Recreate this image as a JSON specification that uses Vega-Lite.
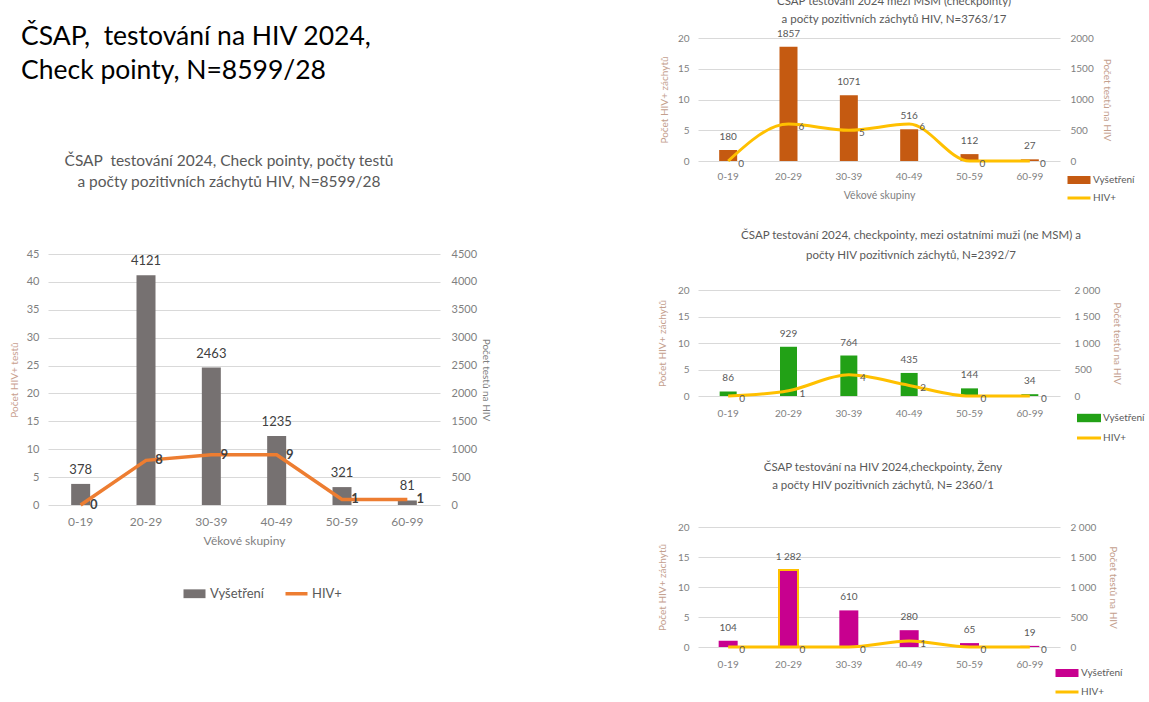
{
"$schema": "https://vega.github.io/schema/vega-lite/v6.json",
"background": "white",
"padding": {"left": 9, "top": -4, "right": 0, "bottom": 0},
"config": {
  "font": "Lato",
  "view": {"stroke": null},
  "locale": {"number": {"decimal": ",", "thousands": "\u00a0", "grouping": [3], "currency": ["", " Kč"]}},
  "axis": {"domain": false, "ticks": false, "labelColor": "#7f7f7f", "titleColor": "#7f7f7f", "titleFontWeight": "normal", "gridColor": "#d9d9d9", "gridWidth": 1, "labelFont": "Lato", "titleFont": "Lato"},
  "title": {"color": "#595959", "fontWeight": "normal", "font": "Lato"},
  "legend": {"labelFont": "Lato", "padding": 0}
},
"datasets": {
  "main": [
    {"age": "0-19", "tests": 378, "hiv": 0},
    {"age": "20-29", "tests": 4121, "hiv": 8},
    {"age": "30-39", "tests": 2463, "hiv": 9},
    {"age": "40-49", "tests": 1235, "hiv": 9},
    {"age": "50-59", "tests": 321, "hiv": 1},
    {"age": "60-99", "tests": 81, "hiv": 1}
  ],
  "msm": [
    {"age": "0-19", "tests": 180, "hiv": 0},
    {"age": "20-29", "tests": 1857, "hiv": 6},
    {"age": "30-39", "tests": 1071, "hiv": 5},
    {"age": "40-49", "tests": 516, "hiv": 6},
    {"age": "50-59", "tests": 112, "hiv": 0},
    {"age": "60-99", "tests": 27, "hiv": 0}
  ],
  "men": [
    {"age": "0-19", "tests": 86, "hiv": 0},
    {"age": "20-29", "tests": 929, "hiv": 1},
    {"age": "30-39", "tests": 764, "hiv": 4},
    {"age": "40-49", "tests": 435, "hiv": 2},
    {"age": "50-59", "tests": 144, "hiv": 0},
    {"age": "60-99", "tests": 34, "hiv": 0}
  ],
  "women": [
    {"age": "0-19", "tests": 104, "hiv": 0},
    {"age": "20-29", "tests": 1282, "hiv": 0},
    {"age": "30-39", "tests": 610, "hiv": 0},
    {"age": "40-49", "tests": 280, "hiv": 1},
    {"age": "50-59", "tests": 65, "hiv": 0},
    {"age": "60-99", "tests": 19, "hiv": 0}
  ]
},
"spacing": 166,
"resolve": {"scale": {"color": "independent", "x": "independent", "y": "independent"}, "legend": {"color": "independent"}},
"hconcat": [
  {
    "spacing": 68,
    "resolve": {"scale": {"color": "independent", "x": "independent", "y": "independent"}, "legend": {"color": "independent"}},
    "vconcat": [
      {
        "width": 392, "height": 1,
        "data": {"values": []},
        "mark": {"type": "point", "opacity": 0},
        "title": {"text": ["ČSAP,\u00a0 testování na HIV 2024,", "Check pointy, N=8599/28"], "orient": "bottom", "anchor": "start", "frame": "group", "fontSize": 26.5, "lineHeight": 34, "color": "#000000", "fontWeight": "normal", "dx": -27, "dy": -15, "offset": 0}
      },
      {
        "width": 392, "height": 251,
        "data": {"name": "main"},
        "title": {"text": ["ČSAP\u00a0 testování 2024, Check pointy, počty testů", "a počty pozitivních záchytů HIV, N=8599/28"], "fontSize": 15.5, "lineHeight": 21, "offset": 58, "dx": -15, "color": "#595959"},
        "encoding": {"x": {"field": "age", "type": "ordinal", "scale": {"paddingInner": 0, "paddingOuter": 0}, "axis": {"title": "Věkové skupiny", "labelAngle": 0, "labelFontSize": 12, "labelPadding": 11, "titleFontSize": 12, "titlePadding": 8, "grid": false}}},
        "layer": [
          {
            "encoding": {"y": {"field": "tests", "type": "quantitative", "scale": {"domain": [0, 4500]}, "axis": {"orient": "right", "title": "Počet testů na HIV", "values": [0, 500, 1000, 1500, 2000, 2500, 3000, 3500, 4000, 4500], "format": "d", "grid": false, "labelFontSize": 11, "labelPadding": 11, "titleFontSize": 10, "titlePadding": 4}}},
            "layer": [
              {"mark": {"type": "bar", "size": 19},
               "encoding": {"color": {"datum": "Vyšetření", "scale": {"domain": ["Vyšetření", "HIV+"], "range": ["#767171", "#ED7D31"]},
                 "legend": {"orient": "none", "legendX": 140, "legendY": 333, "direction": "horizontal", "columns": 2, "title": null, "symbolSize": 484, "labelFontSize": 13, "labelColor": "#595959", "columnPadding": 14, "labelOffset": 9,
                   "encode": {"symbols": {"update": {
                     "shape": {"signal": "datum.value === 'HIV+' ? 'M-1,0H1' : 'M-1,-0.4H1V0.4H-1Z'"},
                     "fill": {"signal": "datum.value === 'HIV+' ? 'transparent' : '#767171'"},
                     "stroke": {"signal": "datum.value === 'HIV+' ? '#ED7D31' : 'transparent'"},
                     "strokeWidth": {"signal": "datum.value === 'HIV+' ? 3.5 : 0"},
                     "opacity": {"value": 1}}}}}}}},
              {"mark": {"type": "text", "baseline": "middle", "dy": -14, "fontSize": 13, "color": "#404040"},
               "encoding": {"text": {"field": "tests", "type": "quantitative", "format": "d"}}}
            ]
          },
          {
            "encoding": {"y": {"field": "hiv", "type": "quantitative", "scale": {"domain": [0, 45]}, "axis": {"orient": "left", "title": "Počet HIV+ testů", "titleColor": "#c9a08f", "values": [0, 5, 10, 15, 20, 25, 30, 35, 40, 45], "grid": true, "labelFontSize": 11, "labelPadding": 9, "titleFontSize": 10, "titlePadding": 7}}},
            "layer": [
              {"mark": {"type": "line", "strokeWidth": 3.5}, "encoding": {"color": {"datum": "HIV+"}}},
              {"mark": {"type": "text", "baseline": "middle", "dx": 13, "fontSize": 13, "fontWeight": "bold", "color": "#404040"},
               "encoding": {"text": {"field": "hiv", "type": "quantitative"}}}
            ]
          }
        ],
        "resolve": {"scale": {"y": "independent"}}
      }
    ]
  },
  {
    "spacing": 17,
    "resolve": {"scale": {"color": "independent", "x": "independent", "y": "independent"}, "legend": {"color": "independent"}},
    "vconcat": [
      {
        "width": 362, "height": 123,
        "data": {"name": "msm"},
        "title": {"text": ["ČSAP testování  2024 mezi MSM (checkpointy)", "a počty pozitivních záchytů HIV, N=3763/17"], "fontSize": 11.5, "lineHeight": 18, "offset": 3, "dx": 15, "color": "#595959"},
        "encoding": {"x": {"field": "age", "type": "ordinal", "scale": {"paddingInner": 0, "paddingOuter": 0}, "axis": {"title": "Věkové skupiny", "labelAngle": 0, "labelFontSize": 10, "labelPadding": 10, "titleFontSize": 10.5, "titlePadding": 9, "grid": false}}},
        "layer": [
          {
            "encoding": {"y": {"field": "tests", "type": "quantitative", "scale": {"domain": [0, 2000]}, "axis": {"orient": "right", "title": "Počet testů na HIV", "titleColor": "#c4a08e", "values": [0, 500, 1000, 1500, 2000], "format": "d", "grid": false, "labelFontSize": 10, "labelPadding": 10, "titleFontSize": 10, "titlePadding": 8}}},
            "layer": [
              {"mark": {"type": "bar", "size": 18},
               "encoding": {"color": {"datum": "Vyšetření", "scale": {"domain": ["Vyšetření", "HIV+"], "range": ["#C55A11", "#FFC000"]},
                 "legend": {"orient": "none", "legendX": 368, "legendY": 129, "padding": 8, "direction": "vertical", "title": null, "symbolSize": 529, "labelFontSize": 10, "labelColor": "#595959", "rowPadding": 7, "labelOffset": 9,
                   "encode": {"symbols": {"update": {
                     "shape": {"signal": "datum.value === 'HIV+' ? 'M-1,0H1' : 'M-1,-0.35H1V0.35H-1Z'"},
                     "fill": {"signal": "datum.value === 'HIV+' ? 'transparent' : '#C55A11'"},
                     "stroke": {"signal": "datum.value === 'HIV+' ? '#FFC000' : 'transparent'"},
                     "strokeWidth": {"signal": "datum.value === 'HIV+' ? 3 : 0"},
                     "opacity": {"value": 1}}}}}}}},
              {"mark": {"type": "text", "baseline": "middle", "dy": -13, "fontSize": 10, "color": "#595959"},
               "encoding": {"text": {"field": "tests", "type": "quantitative", "format": "d"}}}
            ]
          },
          {
            "encoding": {"y": {"field": "hiv", "type": "quantitative", "scale": {"domain": [0, 20]}, "axis": {"orient": "left", "title": "Počet HIV+ záchytů", "titleColor": "#c4a08e", "values": [0, 5, 10, 15, 20], "grid": true, "labelFontSize": 10, "labelPadding": 9, "titleFontSize": 10, "titlePadding": 8}}},
            "layer": [
              {"mark": {"type": "line", "strokeWidth": 3, "interpolate": "monotone"}, "encoding": {"color": {"datum": "HIV+"}}},
              {"mark": {"type": "text", "baseline": "middle", "dx": 13, "dy": 3, "fontSize": 10, "color": "#595959"},
               "encoding": {"text": {"field": "hiv", "type": "quantitative"}}}
            ]
          }
        ],
        "resolve": {"scale": {"y": "independent"}}
      },
      {
        "width": 362, "height": 106,
        "data": {"name": "men"},
        "title": {"text": ["ČSAP testování  2024, checkpointy, mezi ostatními muži (ne MSM) a", "počty HIV pozitivních záchytů, N=2392/7"], "fontSize": 11.5, "lineHeight": 20, "offset": 24, "dx": 32, "color": "#595959"},
        "encoding": {"x": {"field": "age", "type": "ordinal", "scale": {"paddingInner": 0, "paddingOuter": 0}, "axis": {"title": null, "labelAngle": 0, "labelFontSize": 10, "labelPadding": 12, "grid": false}}},
        "layer": [
          {
            "encoding": {"y": {"field": "tests", "type": "quantitative", "scale": {"domain": [0, 2000]}, "axis": {"orient": "right", "title": "Počet testů na HIV", "titleColor": "#c4a08e", "values": [0, 500, 1000, 1500, 2000], "format": ",d", "grid": false, "labelFontSize": 10, "labelPadding": 14, "titleFontSize": 10, "titlePadding": 12}}},
            "layer": [
              {"mark": {"type": "bar", "size": 17},
               "encoding": {"color": {"datum": "Vyšetření", "scale": {"domain": ["Vyšetření", "HIV+"], "range": ["#22A116", "#FFC000"]},
                 "legend": {"orient": "none", "legendX": 386, "legendY": 123, "direction": "vertical", "title": null, "symbolSize": 576, "labelFontSize": 10, "labelColor": "#595959", "rowPadding": 9, "labelOffset": 9,
                   "encode": {"symbols": {"update": {
                     "shape": {"signal": "datum.value === 'HIV+' ? 'M-1,0H1' : 'M-1,-0.35H1V0.35H-1Z'"},
                     "fill": {"signal": "datum.value === 'HIV+' ? 'transparent' : '#22A116'"},
                     "stroke": {"signal": "datum.value === 'HIV+' ? '#FFC000' : 'transparent'"},
                     "strokeWidth": {"signal": "datum.value === 'HIV+' ? 3 : 0"},
                     "opacity": {"value": 1}}}}}}}},
              {"mark": {"type": "text", "baseline": "middle", "dy": -13, "fontSize": 10, "color": "#595959"},
               "encoding": {"text": {"field": "tests", "type": "quantitative", "format": ",d"}}}
            ]
          },
          {
            "encoding": {"y": {"field": "hiv", "type": "quantitative", "scale": {"domain": [0, 20]}, "axis": {"orient": "left", "title": "Počet HIV+ záchytů", "titleColor": "#c4a08e", "values": [0, 5, 10, 15, 20], "grid": true, "labelFontSize": 10, "labelPadding": 9, "titleFontSize": 10, "titlePadding": 10}}},
            "layer": [
              {"mark": {"type": "line", "strokeWidth": 3, "interpolate": "monotone"}, "encoding": {"color": {"datum": "HIV+"}}},
              {"mark": {"type": "text", "baseline": "middle", "dx": 14, "dy": 3, "fontSize": 10, "color": "#595959"},
               "encoding": {"text": {"field": "hiv", "type": "quantitative"}}}
            ]
          }
        ],
        "resolve": {"scale": {"y": "independent"}}
      },
      {
        "width": 362, "height": 120,
        "data": {"name": "women"},
        "title": {"text": ["ČSAP testování  na HIV  2024,checkpointy, Ženy", "a počty HIV pozitivních záchytů, N= 2360/1"], "fontSize": 11.5, "lineHeight": 18, "offset": 31, "dx": 4, "color": "#595959"},
        "encoding": {"x": {"field": "age", "type": "ordinal", "scale": {"paddingInner": 0, "paddingOuter": 0}, "axis": {"title": null, "labelAngle": 0, "labelFontSize": 10, "labelPadding": 12, "grid": false}}},
        "layer": [
          {
            "encoding": {"y": {"field": "tests", "type": "quantitative", "scale": {"domain": [0, 2000]}, "axis": {"orient": "right", "title": "Počet testů na HIV", "titleColor": "#c4a08e", "values": [0, 500, 1000, 1500, 2000], "format": ",d", "grid": false, "labelFontSize": 10, "labelPadding": 10, "titleFontSize": 10, "titlePadding": 12}}},
            "layer": [
              {"mark": {"type": "bar", "size": 19},
               "encoding": {
                 "color": {"datum": "Vyšetření", "scale": {"domain": ["Vyšetření", "HIV+"], "range": ["#C8008F", "#FFC000"]},
                 "legend": {"orient": "none", "legendX": 364, "legendY": 141, "direction": "vertical", "title": null, "symbolSize": 529, "labelFontSize": 10, "labelColor": "#595959", "rowPadding": 8, "labelOffset": 9,
                   "encode": {"symbols": {"update": {
                     "shape": {"signal": "datum.value === 'HIV+' ? 'M-1,0H1' : 'M-1,-0.35H1V0.35H-1Z'"},
                     "fill": {"signal": "datum.value === 'HIV+' ? 'transparent' : '#C8008F'"},
                     "stroke": {"signal": "datum.value === 'HIV+' ? '#FFC000' : 'transparent'"},
                     "strokeWidth": {"signal": "datum.value === 'HIV+' ? 3 : 0"},
                     "opacity": {"value": 1}}}}}}}},
              {"transform": [{"filter": "datum.age === '20-29'"}],
               "mark": {"type": "bar", "size": 19, "fill": "transparent", "stroke": "#FFC000", "strokeWidth": 2}},
              {"mark": {"type": "text", "baseline": "middle", "dy": -13, "fontSize": 10, "color": "#595959"},
               "encoding": {"text": {"field": "tests", "type": "quantitative", "format": ",d"}}}
            ]
          },
          {
            "encoding": {"y": {"field": "hiv", "type": "quantitative", "scale": {"domain": [0, 20]}, "axis": {"orient": "left", "title": "Počet HIV+ záchytů", "titleColor": "#c4a08e", "values": [0, 5, 10, 15, 20], "grid": true, "labelFontSize": 10, "labelPadding": 9, "titleFontSize": 10, "titlePadding": 10}}},
            "layer": [
              {"mark": {"type": "line", "strokeWidth": 3, "interpolate": "monotone"}, "encoding": {"color": {"datum": "HIV+"}}},
              {"mark": {"type": "text", "baseline": "middle", "dx": 14, "dy": 3, "fontSize": 10, "color": "#595959"},
               "encoding": {"text": {"field": "hiv", "type": "quantitative"}}}
            ]
          }
        ],
        "resolve": {"scale": {"y": "independent"}}
      }
    ]
  }
]
}
